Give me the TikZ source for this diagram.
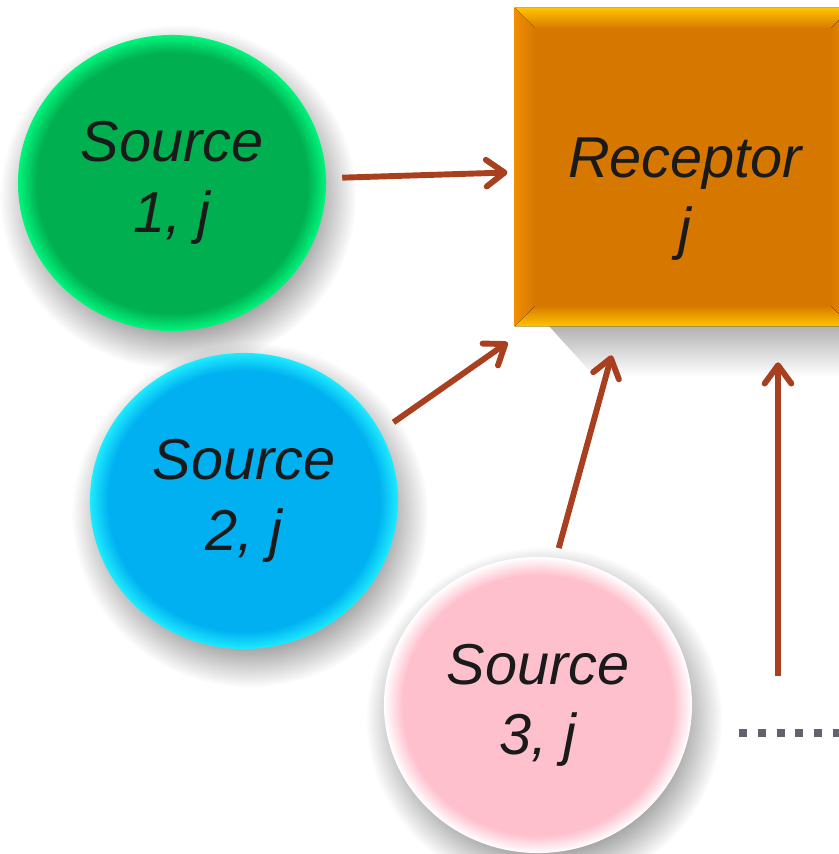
\documentclass[tikz,border=0pt]{standalone}
\usepackage{fontspec}
\setmainfont{Liberation Sans}
\usetikzlibrary{shapes.geometric, arrows.meta, positioning, calc, fadings, backgrounds}
\definecolor{srcgreen}{RGB}{0, 176, 80}
\definecolor{srcgreenlt}{RGB}{0, 245, 125}
\definecolor{srccyan}{RGB}{0, 176, 240}
\definecolor{srccyanlt}{RGB}{30, 235, 255}
\definecolor{srcpink}{RGB}{255, 192, 206}
\definecolor{recorange}{RGB}{214, 120, 0}
\definecolor{recbright}{RGB}{240, 142, 0}
\definecolor{recyellow}{RGB}{255, 196, 0}
\definecolor{arrred}{RGB}{168, 64, 32}
\definecolor{dotgray}{RGB}{98, 98, 108}
\definecolor{txtblack}{RGB}{26, 26, 26}

% soft bright rim at the edge of each source disc
\pgfdeclareradialshading{greenbead}{\pgfpoint{0bp}{0bp}}{color(0bp)=(srcgreen); color(22bp)=(srcgreen); color(25bp)=(srcgreenlt); color(50bp)=(srcgreenlt)}
\pgfdeclareradialshading{cyanbead}{\pgfpoint{0bp}{0bp}}{color(0bp)=(srccyan); color(22bp)=(srccyan); color(25bp)=(srccyanlt); color(50bp)=(srccyanlt)}
\pgfdeclareradialshading{pinkbead}{\pgfpoint{0bp}{0bp}}{color(0bp)=(srcpink); color(22bp)=(srcpink); color(25bp)=(white); color(50bp)=(white)}
% drop shadow: solid in the middle, fading out towards the rim
\pgfdeclareradialshading{softdiscmask}{\pgfpoint{0bp}{0bp}}{color(0bp)=(pgftransparent!0); color(18bp)=(pgftransparent!0); color(25bp)=(pgftransparent!100); color(50bp)=(pgftransparent!100)}
\pgfdeclarefading{softdisc}{\pgfuseshading{softdiscmask}}

\tikzset{
  lbl/.style={
    font=\itshape\fontsize{41}{50}\selectfont,
    text=txtblack, align=center
  },
  srcdisc/.style={
    ellipse, lbl, shade,
    minimum width=7.7cm, minimum height=7.4cm, inner sep=0pt
  },
  recbox/.style={
    rectangle, fill=recorange,
    minimum width=8.4cm, minimum height=7.95cm, inner sep=0pt
  },
  discshade/.style={fill=black, fill opacity=0.42, path fading=softdisc},
  boxshade/.style={fill=black, fill opacity=0.4, path fading=south},
  arr/.style={-{Straight Barb[round, length=13pt, width=19pt]},
    line width=4.2pt, color=arrred},
  dots/.style={line width=0.2cm, dash pattern=on 0.2cm off 0.27cm, color=dotgray},
}

\begin{document}
\begin{tikzpicture}[x=0.025cm, y=-0.025cm]
    \useasboundingbox (0,0) rectangle (839,854);
    \clip (0,0) rectangle (839,854);

    % receptor box with bevelled rim
    \node[recbox] (rec) at (683,167) {};
    \fill[top color=recyellow, middle color=recbright, bottom color=recorange]
      (rec.north west) -- (rec.north east) -- ($(rec.north east)+(-21,21)$) -- ($(rec.north west)+(21,21)$) -- cycle;
    \fill[left color=recbright, right color=recorange]
      (rec.north west) -- ($(rec.north west)+(21,21)$) -- ($(rec.south west)+(21,-21)$) -- (rec.south west) -- cycle;
    \fill[top color=recorange, middle color=recbright, bottom color=recyellow]
      (rec.south west) -- ($(rec.south west)+(21,-21)$) -- ($(rec.south east)+(-21,-21)$) -- (rec.south east) -- cycle;
    \fill[left color=recorange, right color=recbright]
      (rec.north east) -- ($(rec.north east)+(-21,21)$) -- ($(rec.south east)+(-21,-21)$) -- (rec.south east) -- cycle;
    \fill[recorange] ($(rec.north west)+(20,20)$) rectangle ($(rec.south east)+(-20,-20)$);
    \node[lbl] (reclbl) at ($(rec.center)+(2,32)$) {Receptor\\j};

    % sources
    \node[srcdisc, shading=greenbead] (s1) at (172,183) {Source\\1, j};
    \node[srcdisc, shading=cyanbead]  (s2) at (244,501) {Source\\2, j};
    \node[srcdisc, shading=pinkbead]  (s3) at (538,705) {Source\\3, j};

    \begin{scope}[on background layer]
      \fill[white] (0,0) rectangle (839,854);
      \foreach \s in {s1, s2, s3}
        \path[discshade] ($(\s.center)+(6,14)$) ellipse [x radius=4.45cm, y radius=4.3cm];
      \path[boxshade] ($(rec.south west)+(20,-16)$) -- ($(rec.south east)+(60,-16)$)
        -- ($(rec.south east)+(60,50)$) -- ($(rec.south west)+(80,50)$) -- cycle;
    \end{scope}

    \coordinate (more) at (778,676);
    \coordinate (etc) at (739,733);

    \draw[arr, shorten <=0.4cm, shorten >=0.18cm] (s1) -- (rec);
    \draw[arr, shorten <=0.4cm] (s2.27) -- ($(rec.south west)+(-7,16)$);
    \draw[arr, shorten <=0.25cm] (s3.83) -- ($(rec.south west)+(97,29)$);
    \draw[arr, shorten >=0.9cm] (more) -- (more |- rec.south);

    \draw[dots] (etc) -- ++(110,0);
\end{tikzpicture}
\end{document}
